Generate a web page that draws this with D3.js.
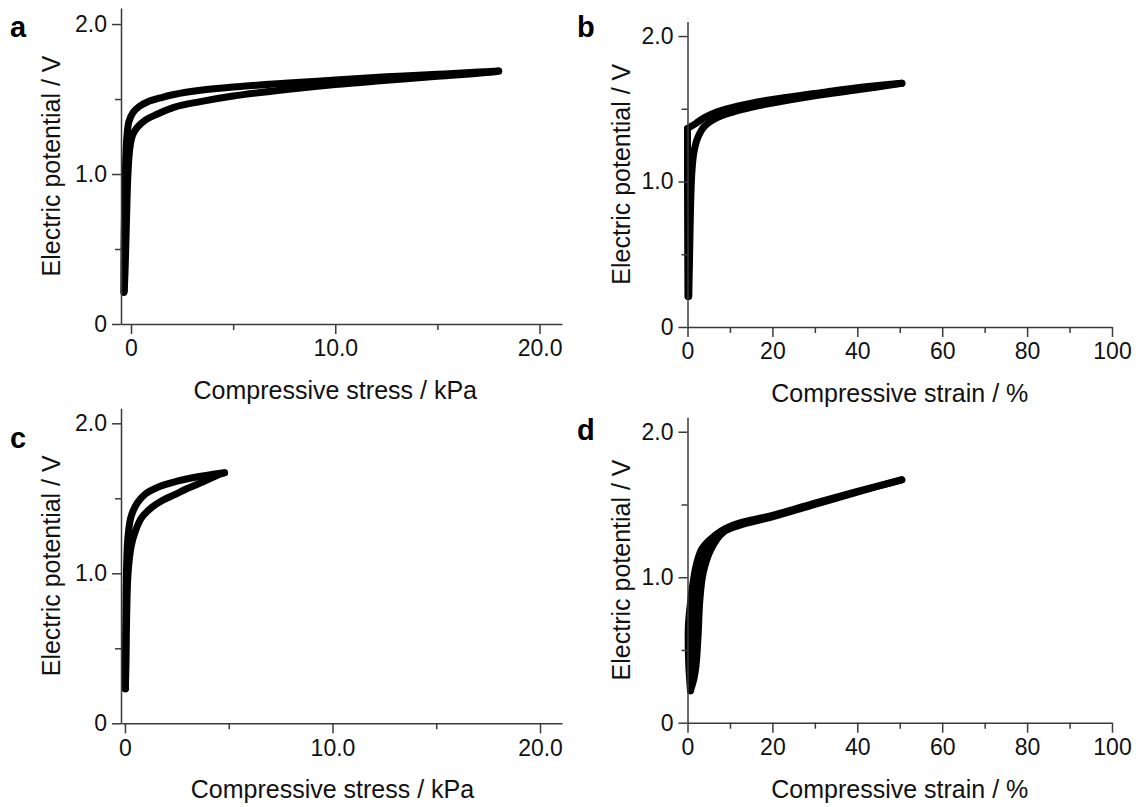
<!DOCTYPE html>
<html>
<head>
<meta charset="utf-8">
<script src="https://cdn.jsdelivr.net/npm/d3@7"></script>
<style>
  body { margin: 0; background: #fff; }
  svg { display: block; font-family: "Liberation Sans", Arial, Helvetica, sans-serif; }
</style>
</head>
<body>
<div id="chart"></div>
<script>
// =================================== DATA ===================================

const potentialTicks = [0, 1, 2]
const potentialMinor = [0.5, 1.5]
const stressTicks = [0, 10, 20]
const stressMinor = [5, 15]
const strainTicks = [0, 20, 40, 60, 80, 100]
const strainMinor = [10, 30, 50, 70, 90]

// panel a : potential (V) vs compressive stress (kPa)
const aLoading = [[-0.35,0.21],[-0.34,0.5],[-0.31,0.8],[-0.27,1.05],[-0.2,1.25],[-0.1,1.35],[0.1,1.41],[0.4,1.45],[0.8,1.48],[1.5,1.51],[2.1,1.53],[3.4,1.558],[5,1.58],[7.5,1.605],[10,1.627],[12.5,1.648],[15,1.665],[17,1.68],[18,1.687]]
const aUnloading = [[18,1.687],[17.8,1.682],[15,1.652],[12.5,1.625],[10,1.597],[7.5,1.562],[5,1.52],[3.4,1.483],[2.1,1.445],[1.3,1.40],[0.7,1.36],[0.3,1.31],[0.08,1.26],[-0.05,1.18],[-0.15,1.0],[-0.22,0.7],[-0.28,0.4],[-0.33,0.22]]

// panel b : potential (V) vs compressive strain (%)
const bLoading = [[0.3,0.21],[0.5,0.5],[0.7,0.8],[1.0,1.05],[1.5,1.2],[2.4,1.3],[4,1.38],[7,1.44],[11,1.48],[15,1.51],[20,1.54],[30,1.59],[40,1.63],[50.5,1.675]]
const bUnloading = [[50.5,1.675],[40,1.645],[30,1.605],[20,1.565],[12,1.52],[7,1.48],[4,1.44],[2,1.40],[0,1.365]]
const bRelax = [[0,1.365],[0,1.0],[0.05,0.6],[0.1,0.21]]

// panel c : potential (V) vs compressive stress (kPa)
const cLoading = [[0.02,0.23],[0.03,0.5],[0.05,0.8],[0.08,1.05],[0.15,1.25],[0.3,1.38],[0.6,1.47],[1.0,1.53],[1.7,1.58],[2.4,1.61],[3.2,1.635],[3.9,1.652],[4.8,1.67]]
const cUnloading = [[4.8,1.67],[4.4,1.65],[3.8,1.612],[3.0,1.565],[2.4,1.525],[1.8,1.485],[1.3,1.44],[0.8,1.37],[0.5,1.28],[0.3,1.18],[0.15,1.0],[0.08,0.7],[0.05,0.4],[0.02,0.23]]

// panel d : potential (V) vs compressive strain (%)
const dLoading = [[0.7,0.22],[1.5,0.3],[2.0,0.39],[2.5,0.6],[2.9,0.84],[3.7,1.03],[5.5,1.19],[8.5,1.31],[12,1.355],[20,1.415],[30,1.5],[40,1.585],[50.5,1.67]]
const dUnloading = [[50.5,1.67],[40,1.59],[30,1.51],[20,1.425],[12,1.37],[8,1.32],[5,1.25],[3.3,1.19],[2.2,1.1],[1.5,1.0],[0.8,0.85],[0.2,0.66],[0.3,0.4],[0.7,0.22]]

// =================================== SETTINGS ===================================

const width = 1141
const height = 807

const svg = d3.select('#chart')
  .append('svg')
  .attr('width', width)
  .attr('height', height)

const fmtOne = d => d === 0 ? '0' : d.toFixed(1)
const fmtInt = d3.format('d')

const panels = [
  { letter: 'a', lx: 10, ly: 37, xDomain: [-0.49, 21.1], xRange: [121, 562], yDomain: [0, 2.107], yRange: [324, 8],
    xTicks: stressTicks, xMinor: stressMinor, xFmt: fmtOne, xTitle: 'Compressive stress / kPa',
    curves: [aLoading, aUnloading], fillLoop: null, titleX: 60 },
  { letter: 'b', lx: 577, ly: 37, xDomain: [0, 100], xRange: [687.5, 1112], yDomain: [0, 2.1], yRange: [327, 21.5],
    xTicks: strainTicks, xMinor: strainMinor, xFmt: fmtInt, xTitle: 'Compressive strain / %',
    curves: [bLoading, bUnloading, bRelax], fillLoop: null, titleX: 630 },
  { letter: 'c', lx: 10, ly: 448, xDomain: [-0.19, 21.06], xRange: [121, 562], yDomain: [0, 2.1], yRange: [723.3, 408.3],
    xTicks: stressTicks, xMinor: stressMinor, xFmt: fmtOne, xTitle: 'Compressive stress / kPa',
    curves: [cLoading, cUnloading], fillLoop: null, titleX: 60 },
  { letter: 'd', lx: 577, ly: 440, xDomain: [0, 100], xRange: [687.5, 1112], yDomain: [0, 2.1], yRange: [722.7, 417.2],
    xTicks: strainTicks, xMinor: strainMinor, xFmt: fmtInt, xTitle: 'Compressive strain / %',
    curves: [dLoading, dUnloading], fillLoop: dLoading.concat(dUnloading.slice(1)), titleX: 630 }
]

// =================================== PANELS ===================================

panels.forEach(function (p) {
  const x = d3.scaleLinear().domain(p.xDomain).range(p.xRange)
  const y = d3.scaleLinear().domain(p.yDomain).range(p.yRange)
  const g = svg.append('g')
  const x0 = p.xRange[0]
  const y0 = p.yRange[0]

  const line = d3.line()
    .x(d => x(d[0]))
    .y(d => y(d[1]))
    .curve(d3.curveCatmullRom.alpha(0.5))

  // the many overlapping cycles fill the loop in panel d
  if (p.fillLoop) {
    g.append('path')
      .datum(p.fillLoop)
      .attr('d', line)
      .attr('fill', '#000')
      .attr('stroke', 'none')
  }

  g.selectAll('path.curve')
    .data(p.curves)
    .enter().append('path')
    .attr('class', 'curve')
    .attr('d', line)
    .attr('fill', 'none')
    .attr('stroke', '#000')
    .attr('stroke-width', 7)
    .attr('stroke-linejoin', 'round')
    .attr('stroke-linecap', 'round')

  // x axis
  g.append('g')
    .attr('transform', 'translate(0,' + y0 + ')')
    .call(d3.axisBottom(x).tickValues(p.xTicks).tickFormat(p.xFmt).tickSize(10).tickPadding(6).tickSizeOuter(0))
  const xMin = g.append('g')
    .attr('transform', 'translate(0,' + y0 + ')')
    .call(d3.axisBottom(x).tickValues(p.xMinor).tickFormat('').tickSize(6))
  xMin.select('.domain').remove()

  // y axis
  g.append('g')
    .attr('transform', 'translate(' + x0 + ',0)')
    .call(d3.axisLeft(y).tickValues(potentialTicks).tickFormat(fmtOne).tickSize(9).tickPadding(5).tickSizeOuter(0))
  const yMin = g.append('g')
    .attr('transform', 'translate(' + x0 + ',0)')
    .call(d3.axisLeft(y).tickValues(potentialMinor).tickFormat('').tickSize(6))
  yMin.select('.domain').remove()

  g.selectAll('.domain, .tick line')
    .attr('stroke', '#3a3a3a')
    .attr('stroke-width', 1.5)
  g.selectAll('.tick text')
    .attr('fill', '#111')
    .style('font-size', '23px')
    .style('font-family', '"Liberation Sans", Arial, sans-serif')

  // titles
  g.append('text')
    .attr('x', (x(p.xTicks[0]) + x(p.xTicks[p.xTicks.length - 1])) / 2)
    .attr('y', y0 + 75)
    .attr('text-anchor', 'middle')
    .style('font-size', '25px')
    .attr('fill', '#111')
    .text(p.xTitle)

  g.append('text')
    .attr('transform', 'translate(' + p.titleX + ',' + ((p.yRange[0] + p.yRange[1]) / 2) + ') rotate(-90)')
    .attr('text-anchor', 'middle')
    .style('font-size', '25px')
    .attr('fill', '#111')
    .text('Electric potential / V')

  // panel letter
  g.append('text')
    .attr('x', p.lx)
    .attr('y', p.ly)
    .style('font-size', '29px')
    .style('font-weight', 'bold')
    .attr('fill', '#000')
    .text(p.letter)
})
</script>
</body>
</html>
